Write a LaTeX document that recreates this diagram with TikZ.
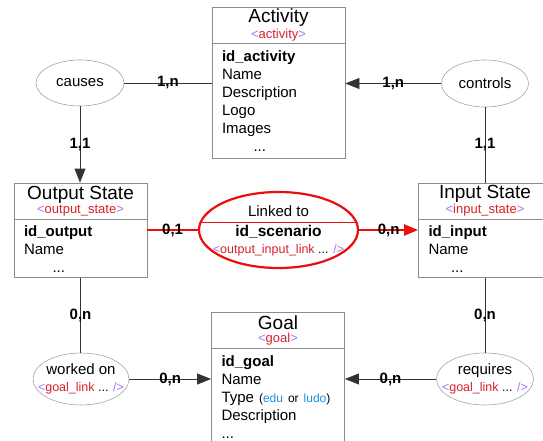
\documentclass[tikz,border=0pt]{standalone}
\usepackage{fontspec}
\setmainfont{Liberation Sans}
\usetikzlibrary{shapes.geometric,positioning,arrows.meta}

\definecolor{tagpurple}{HTML}{A874F2}
\definecolor{tagred}{HTML}{D8202C}
\definecolor{typeblue}{HTML}{1E8FE0}
\definecolor{boxgray}{HTML}{8C8C8C}
\definecolor{linkred}{HTML}{EA0E0E}

\newcommand{\tagof}[1]{{\color{tagpurple}<}{\color{tagred}#1}{\color{tagpurple}>}}
\newcommand{\linktag}[1]{{\color{tagpurple}<}{\color{tagred}#1} ... {\color{tagpurple}/>}}

\tikzset{
  entity/.style={draw=boxgray, line width=0.8pt, minimum width=133pt, minimum height=36pt, align=center, inner sep=0pt},
  fields/.style={draw=boxgray, line width=0.8pt, text width=113pt, align=left, inner xsep=10pt, inner ysep=2pt, font=\fontsize{15}{18}\selectfont},
  relation/.style={ellipse, draw=boxgray!80, line width=0.6pt, inner sep=0pt},
  reltext/.style={align=center, inner sep=0pt, font=\fontsize{15}{17}\selectfont},
  card/.style={font=\bfseries\fontsize{15}{17}\selectfont, inner sep=0pt},
  link/.style={draw=black!80, line width=0.8pt},
  tip/.style={-{Triangle[length=14pt,width=11pt]}},
}

\begin{document}
\begin{tikzpicture}[x=1pt,y=-1pt]
  \useasboundingbox (0,0) rectangle (543,441);
  \clip (0,0) rectangle (543,441);

  % entities
  \node[entity] (act) at (278.5,25) {{\fontsize{19}{19}\selectfont Activity}\\[1pt]{\fontsize{13}{13}\selectfont\tagof{activity}}};
  \node[fields, below=0pt of act, minimum height=115pt] (actb) {\textbf{id\_activity}\\Name\\Description\\Logo\\Images\\\hspace*{2.1em}...};

  \node[entity] (out) at (80.5,201) {{\fontsize{19}{19}\selectfont Output State}\\[1pt]{\fontsize{13}{13}\selectfont\tagof{output\_state}}};
  \node[fields, below=0pt of out, minimum height=58pt] (outb) {\textbf{id\_output}\\Name\\\hspace*{1.9em}...};

  \node[entity] (in) at (485,201) {{\fontsize{19}{19}\selectfont Input State}\\[1pt]{\fontsize{13}{13}\selectfont\tagof{input\_state}}};
  \node[fields, below=0pt of in, minimum height=58pt] (inb) {\textbf{id\_input}\\Name\\\hspace*{1.5em}...};

  \node[entity] (goal) at (278,330) {{\fontsize{19}{19}\selectfont Goal}\\[1pt]{\fontsize{13}{13}\selectfont\tagof{goal}}};
  \node[fields, below=0pt of goal, minimum height=96pt] (goalb) {\textbf{id\_goal}\\Name\\Type {\fontsize{12}{13}\selectfont(\textcolor{typeblue}{edu} or \textcolor{typeblue}{ludo})}\\Description\\...};

  % relations
  \node[relation, minimum width=88pt, minimum height=46pt] (causes) at (80,83) {};
  \node[reltext] (causestxt) at (causes) {causes};
  \node[relation, minimum width=87pt, minimum height=47pt] (controls) at (485,83.5) {};
  \node[reltext] (controlstxt) at (controls) {controls};
  \node[relation, minimum width=96pt, minimum height=52pt] (worked) at (81,379) {};
  \node[reltext] (workedtxt) at (worked) {worked on\\{\fontsize{12.5}{13}\selectfont\linktag{goal\_link}}};
  \node[relation, minimum width=97pt, minimum height=52pt] (requires) at (485,379) {};
  \node[reltext] (requirestxt) at (requires) {requires\\{\fontsize{12.5}{13}\selectfont\linktag{goal\_link}}};

  \node[ellipse, draw=linkred, line width=2.2pt, minimum width=159pt, minimum height=76pt, inner sep=0pt] (linked) at (278.5,230) {};
  \draw[linkred, line width=0.8pt] ([shift={(-77,-8)}]linked.center) -- ([shift={(77,-8)}]linked.center);
  \node[reltext] (linkedtxt) at ([yshift=-1pt]linked.center) {Linked to\\[3pt]{\bfseries\fontsize{15.5}{17}\selectfont id\_scenario}\\{\fontsize{12.5}{13}\selectfont\linktag{output\_input\_link}}};

  % connectors
  \draw[link] (causes.east) -- node[card] {1,n} (causes.east -| actb.west);
  \draw[link, tip] (controls.west) -- node[card] {1,n} (controls.west -| actb.east);
  \draw[link, tip] (causes.south) -- node[card] {1,1} (causes.south |- out.north);
  \draw[link] (controls.south) -- node[card] {1,1} (controls.south |- in.north);
  \draw[linkred, line width=2.2pt] (linked.west) -- node[card, text=black] {0,1} (linked.west -| outb.east);
  \draw[linkred, line width=2.2pt, -{Triangle[length=14pt,width=11pt]}] (linked.east) -- node[card, text=black] {0,n} (linked.east -| inb.west);
  \draw[link] (outb.south) -- node[card] {0,n} (outb.south |- worked.north);
  \draw[link] (inb.south) -- node[card] {0,n} (inb.south |- requires.north);
  \draw[link, tip] (worked.east) -- node[card] {0,n} (worked.east -| goalb.west);
  \draw[link, tip] (requires.west) -- node[card] {0,n} (requires.west -| goalb.east);
\end{tikzpicture}
\end{document}
